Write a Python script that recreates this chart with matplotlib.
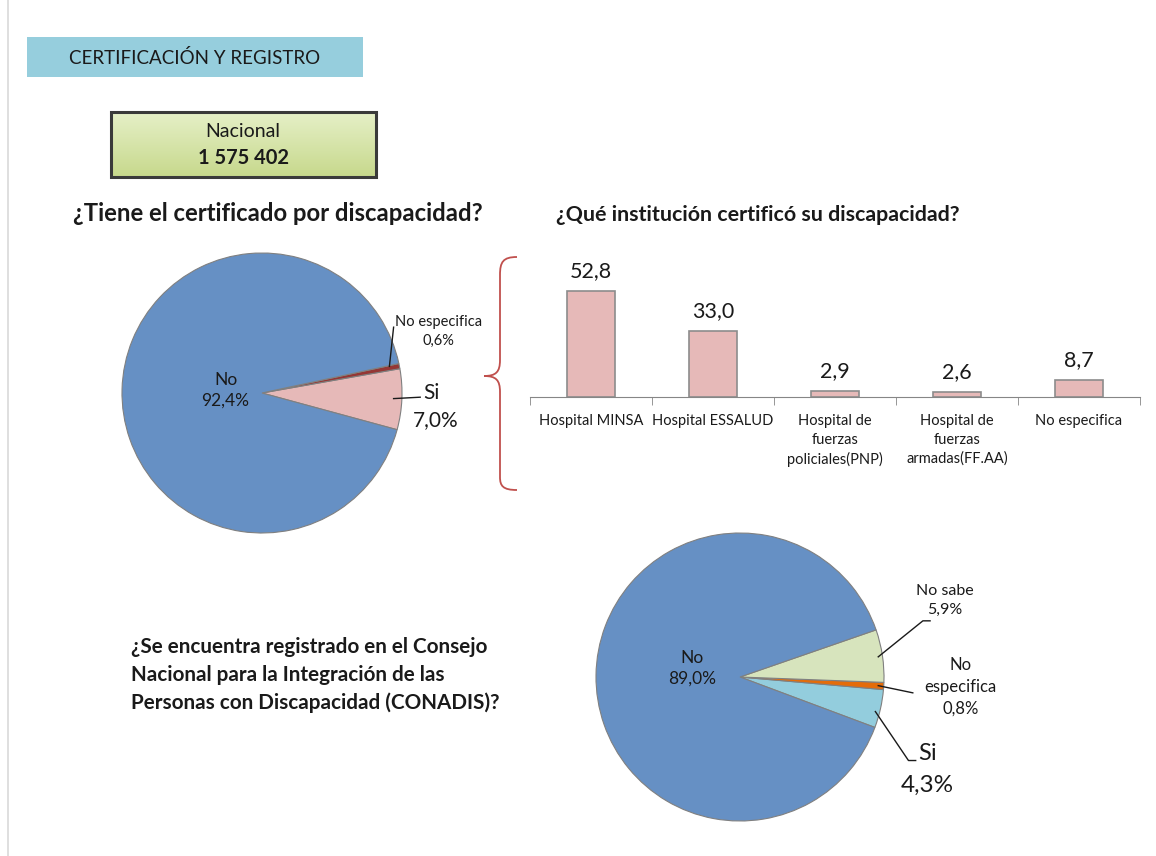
import numpy as np
import matplotlib.pyplot as plt
from matplotlib.path import Path
from matplotlib.patches import PathPatch, Rectangle

plt.rcParams['font.family'] = ['Lato', 'DejaVu Sans']

W, H = 1156, 856

# datos
cert_labels = ['Si', 'No especifica', 'No']
cert_values = [7.0, 0.6, 92.4]
cert_text = ['7,0%', '0,6%', '92,4%']

inst_labels = ['Hospital MINSA', 'Hospital ESSALUD', 'Hospital de\nfuerzas\npoliciales(PNP)',
               'Hospital de\nfuerzas\narmadas(FF.AA)', 'No especifica']
inst_values = [52.8, 33.0, 2.9, 2.6, 8.7]
inst_text = ['52,8', '33,0', '2,9', '2,6', '8,7']

reg_labels = ['Si', 'No especifica', 'No sabe', 'No']
reg_values = [4.3, 0.8, 5.9, 89.0]
reg_text = ['4,3%', '0,8%', '5,9%', '89,0%']

fig = plt.figure(figsize=(W / 100, H / 100), dpi=100)


def px_axes(x0, y0, w, h):
    return fig.add_axes([x0 / W, 1 - (y0 + h) / H, w / W, h / H])


# fondo en pixeles
bg = px_axes(0, 0, W, H)
bg.set_xlim(0, W)
bg.set_ylim(H, 0)
bg.axis('off')
bg.plot([8, 8], [0, H], color='#D9D9D9', lw=1.2)

bg.add_patch(Rectangle((27, 37), 336, 40, facecolor='#96CEDD', edgecolor='none'))
bg.text(195, 58, 'CERTIFICACIÓN Y REGISTRO', ha='center', va='center', fontsize=13.5, color='#1a1a1a')

# caja nacional con degradado
grad = np.linspace(0, 1, 50).reshape(-1, 1)
c1 = np.array([0.90, 0.94, 0.78])
c2 = np.array([0.78, 0.85, 0.55])
img = c1 + (c2 - c1) * grad[:, :, None]
bg.imshow(img, extent=(111, 376, 177, 112), aspect='auto', zorder=1)
bg.add_patch(Rectangle((111, 112), 265, 65, facecolor='none', edgecolor='#3a3a3a', lw=2.2, zorder=2))
bg.text(243, 131, 'Nacional', ha='center', va='center', fontsize=14, color='#1a1a1a', zorder=3)
bg.text(243, 158, '1 575 402', ha='center', va='center', fontsize=14.5, fontweight='bold', color='#1a1a1a', zorder=3)

bg.text(278, 213, '¿Tiene el certificado por discapacidad?', ha='center', va='center',
        fontsize=17.2, fontweight='bold', color='#1a1a1a')
bg.text(758, 215, '¿Qué institución certificó su discapacidad?', ha='center', va='center',
        fontsize=15.4, fontweight='bold', color='#1a1a1a')
bg.text(131, 675, '¿Se encuentra registrado en el Consejo\nNacional para la Integración de las\nPersonas con Discapacidad (CONADIS)?',
        ha='left', va='center', fontsize=14.9, fontweight='bold', color='#1a1a1a', linespacing=1.5)

# llave roja
verts = [(517, 257), (503, 257), (500, 262), (500, 275),
         (500, 360),
         (500, 372), (496, 376), (484, 376),
         (496, 376), (500, 380), (500, 392),
         (500, 477),
         (500, 486), (503, 490), (517, 490)]
codes = [Path.MOVETO, Path.CURVE4, Path.CURVE4, Path.CURVE4,
         Path.LINETO,
         Path.CURVE4, Path.CURVE4, Path.CURVE4,
         Path.CURVE4, Path.CURVE4, Path.CURVE4,
         Path.LINETO,
         Path.CURVE4, Path.CURVE4, Path.CURVE4]
bg.add_patch(PathPatch(Path(verts, codes), facecolor='none', edgecolor='#C0504D', lw=1.3))

edge = '#808080'

# pie 1
R1 = 140
cx, cy, hw, hh = 262, 393, 240, 160
ax1 = px_axes(cx - hw, cy - hh, 2 * hw, 2 * hh)
ax1.pie(cert_values, colors=['#E6B9B8', '#953735', '#6690C4'], startangle=-15.2, radius=1,
        wedgeprops=dict(edgecolor=edge, linewidth=0.8))
ax1.set_xlim(-hw / R1, hw / R1)
ax1.set_ylim(-hh / R1, hh / R1)
ax1.text(-0.26, 0.02, cert_labels[2] + '\n' + cert_text[2], ha='center', va='center', fontsize=12.5, color='#1a1a1a', linespacing=1.4)
ax1.plot([0.91, 0.94], [0.19, 0.47], color='#1a1a1a', lw=1)
ax1.text(1.26, 0.44, cert_labels[1] + '\n' + cert_text[1], ha='center', va='center', fontsize=10.5, color='#1a1a1a', linespacing=1.4)
ax1.plot([0.94, 1.13], [-0.04, -0.03], color='#1a1a1a', lw=1)
ax1.text(1.21, 0.0, cert_labels[0], ha='center', va='center', fontsize=15, color='#1a1a1a')
ax1.text(1.24, -0.19, cert_text[0], ha='center', va='center', fontsize=15, color='#1a1a1a')

# barras
axb = px_axes(530, 247, 610, 150)
x = np.arange(len(inst_values))
axb.bar(x, inst_values, width=0.4, color='#E6B9B8', edgecolor='#8C8C8C', linewidth=1.2)
for xi, v, t in zip(x, inst_values, inst_text):
    axb.text(xi, v + 5, t, ha='center', va='bottom', fontsize=15.5, color='#1a1a1a')
axb.set_xlim(-0.5, len(inst_values) - 0.5)
axb.set_ylim(0, 75)
for s in ['top', 'right', 'left']:
    axb.spines[s].set_visible(False)
axb.spines['bottom'].set_color('#868686')
axb.set_yticks([])
axb.set_xticks(x)
axb.set_xticklabels(inst_labels, fontsize=10.5, color='#1a1a1a', linespacing=1.45, va='top')
axb.tick_params(axis='x', which='major', length=0, pad=12)
axb.set_xticks(np.arange(-0.5, len(inst_values)), minor=True)
axb.tick_params(axis='x', which='minor', length=6, color='#868686')
axb.patch.set_alpha(0)

# pie 2
R2 = 144
cx, cy, hw, hh = 740, 677, 260, 160
ax2 = px_axes(cx - hw, cy - hh, 2 * hw, 2 * hh)
ax2.pie(reg_values, colors=['#93CDDD', '#E46C0A', '#D7E4BD', '#6690C4'], startangle=-20.5, radius=1,
        wedgeprops=dict(edgecolor=edge, linewidth=0.8))
ax2.set_xlim(-hw / R2, hw / R2)
ax2.set_ylim(-hh / R2, hh / R2)
ax2.text(-0.33, 0.06, reg_labels[3] + '\n' + reg_text[3], ha='center', va='center', fontsize=12.5, color='#1a1a1a', linespacing=1.4)
ax2.plot([0.96, 1.27, 1.32], [0.14, 0.39, 0.39], color='#1a1a1a', lw=1)
ax2.text(1.42, 0.53, reg_labels[2] + '\n' + reg_text[2], ha='center', va='center', fontsize=11.5, color='#1a1a1a', linespacing=1.45)
ax2.plot([0.96, 1.20], [-0.06, -0.11], color='#1a1a1a', lw=1)
ax2.text(1.53, -0.07, 'No\nespecifica\n' + reg_text[1], ha='center', va='center', fontsize=12, color='#1a1a1a', linespacing=1.45)
ax2.plot([0.94, 1.17, 1.22], [-0.24, -0.58, -0.58], color='#1a1a1a', lw=1)
ax2.text(1.30, -0.53, reg_labels[0], ha='center', va='center', fontsize=17, color='#1a1a1a')
ax2.text(1.30, -0.75, reg_text[0], ha='center', va='center', fontsize=17.5, color='#1a1a1a')

fig.savefig('out.png', dpi=100)
